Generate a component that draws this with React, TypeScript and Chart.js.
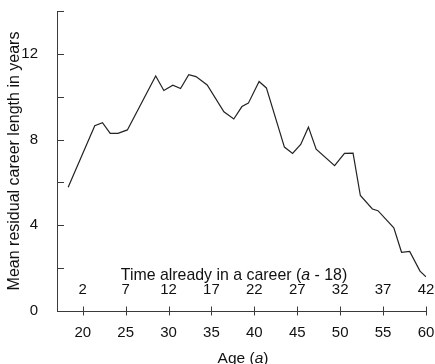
import React, { useEffect, useRef } from 'react';
import { Chart, registerables } from 'chart.js';

Chart.register(...registerables);

// ---- data ----
const ages = [18.3, 21.4, 22.3, 23.2, 24.1, 25.2, 28.5, 29.45, 30.5, 31.4, 32.35, 33.2, 34.5, 36.45, 37.6, 38.55, 39.3, 40.55, 41.4, 43.5, 44.45, 45.4, 46.3, 47.2, 49.35, 50.5, 51.5, 52.35, 53.75, 54.4, 56.25, 57.15, 58.1, 59.3, 60.0];
const residualYears = [5.77, 8.65, 8.79, 8.29, 8.29, 8.45, 10.97, 10.29, 10.54, 10.38, 11.03, 10.94, 10.55, 9.3, 8.96, 9.54, 9.7, 10.71, 10.41, 7.65, 7.35, 7.77, 8.58, 7.55, 6.78, 7.36, 7.37, 5.39, 4.76, 4.68, 3.88, 2.74, 2.78, 1.86, 1.59];

const ageTicks = [20, 25, 30, 35, 40, 45, 50, 55, 60];
const careerStart = 18;
const careerTicks = [2, 7, 12, 17, 22, 27, 32, 37, 42];
const yLabelTicks = [0, 4, 8, 12];
const yTickMarks = [0, 2, 4, 6, 8, 10, 12, 14];

const FONT = '"Liberation Sans", Arial, Helvetica, sans-serif';
const INK = '#111';
const AXIS = '#3a3a3a';

function drawMixed(ctx: CanvasRenderingContext2D, parts: { t: string; it?: boolean }[], cx: number, baseY: number, size: number) {
  const fonts = parts.map((p) => `${p.it ? 'italic ' : ''}${size}px ${FONT}`);
  const widths = parts.map((p, i) => { ctx.font = fonts[i]; return ctx.measureText(p.t).width; });
  const total = widths.reduce((a, b) => a + b, 0);
  let x = cx - total / 2;
  ctx.textAlign = 'left';
  ctx.textBaseline = 'alphabetic';
  parts.forEach((p, i) => { ctx.font = fonts[i]; ctx.fillText(p.t, x, baseY); x += widths[i]; });
}

function noScalePadding(s: any) {
  s.paddingTop = 0;
  s.paddingBottom = 0;
  s.paddingLeft = 0;
  s.paddingRight = 0;
}

const axisDecor = {
  id: 'axisDecor',
  afterDraw(chart: any) {
    const ctx: CanvasRenderingContext2D = chart.ctx;
    const xs = chart.scales.x;
    const ys = chart.scales.y;
    const { left, right, bottom } = chart.chartArea;
    ctx.save();
    ctx.strokeStyle = AXIS;
    ctx.lineWidth = 1;
    ctx.beginPath();
    for (const v of yTickMarks) {
      const py = Math.round(ys.getPixelForValue(v)) + 0.5;
      ctx.moveTo(left, py);
      ctx.lineTo(left + 7, py);
    }
    for (const v of ageTicks) {
      const px = Math.round(xs.getPixelForValue(v)) + 0.5;
      ctx.moveTo(px, bottom - 4.5);
      ctx.lineTo(px, bottom + 4.5);
    }
    ctx.stroke();

    ctx.fillStyle = INK;
    ctx.font = `15px ${FONT}`;
    ctx.textAlign = 'center';
    ctx.textBaseline = 'alphabetic';
    for (const v of careerTicks) {
      ctx.fillText(String(v), xs.getPixelForValue(v + careerStart), bottom - 17.5);
    }
    const mid = (left + right) / 2;
    drawMixed(ctx, [{ t: 'Time already in a career (' }, { t: 'a', it: true }, { t: ' - 18)' }], mid - 7.5, bottom - 31.5, 15.9);
    drawMixed(ctx, [{ t: 'Age (' }, { t: 'a', it: true }, { t: ')' }], mid + 1.5, bottom + 51.5, 15.5);
    ctx.restore();
  },
};

export default function App() {
  const ref = useRef<HTMLCanvasElement>(null);
  useEffect(() => {
    if (!ref.current) return;
    Chart.defaults.font.family = FONT;
    const chart = new Chart(ref.current, {
      type: 'line',
      data: {
        datasets: [
          {
            data: ages.map((a, i) => ({ x: a, y: residualYears[i] })),
            borderColor: '#222',
            borderWidth: 1.2,
            pointRadius: 0,
            tension: 0,
            fill: false,
          },
        ],
      },
      options: {
        animation: false,
        responsive: false,
        devicePixelRatio: 1,
        layout: { autoPadding: false, padding: { top: 11, right: 9, left: 0, bottom: 0 } },
        plugins: { legend: { display: false }, tooltip: { enabled: false } },
        scales: {
          x: {
            type: 'linear',
            min: 17,
            max: 60,
            grid: { display: false },
            border: { display: true, color: AXIS, width: 1 },
            afterBuildTicks: (s: any) => { s.ticks = ageTicks.map((v) => ({ value: v })); },
            afterFit: (s: any) => { s.height = 53; noScalePadding(s); },
            ticks: { color: INK, font: { size: 15 }, padding: 5, maxRotation: 0, autoSkip: false },
          },
          y: {
            type: 'linear',
            min: 0,
            max: 14,
            grid: { display: false },
            border: { display: true, color: AXIS, width: 1 },
            afterBuildTicks: (s: any) => { s.ticks = yLabelTicks.map((v) => ({ value: v })); },
            afterFit: (s: any) => { s.width = 57; noScalePadding(s); },
            ticks: { color: INK, font: { size: 15 }, padding: 11 },
            title: {
              display: true,
              text: 'Mean residual career length in years',
              color: INK,
              font: { size: 16 },
              padding: { top: 5, bottom: 0 },
            },
          },
        },
      },
      plugins: [axisDecor],
    });
    return () => chart.destroy();
  }, []);
  return (
    <div style={{ position: 'absolute', left: 0, top: 0, width: 435, height: 364, background: '#fff' }}>
      <canvas ref={ref} width={435} height={364} />
    </div>
  );
}
